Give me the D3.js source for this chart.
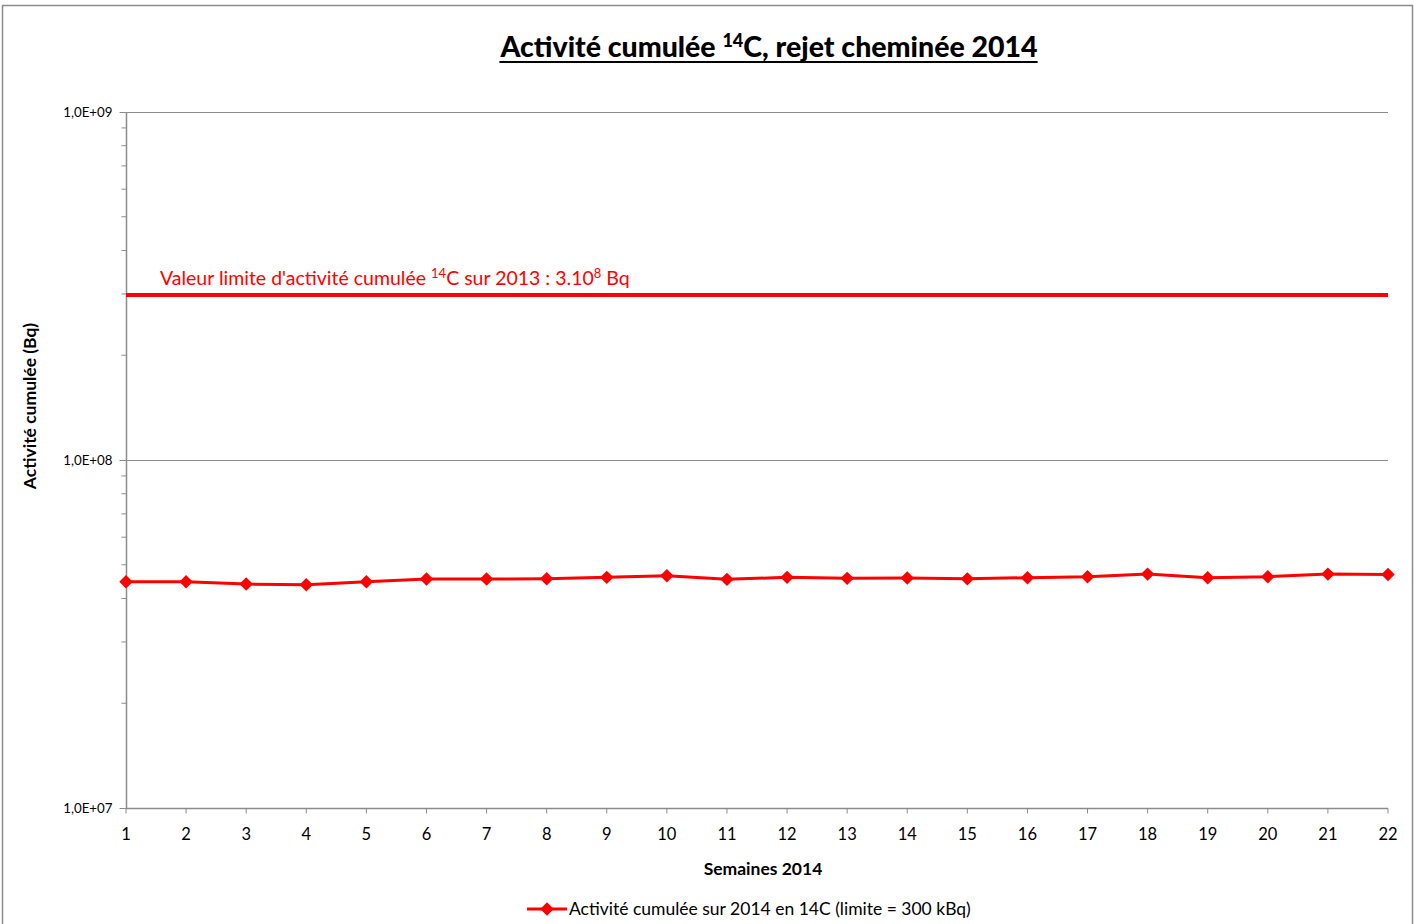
<!DOCTYPE html>
<html><head><meta charset="utf-8">
<script src="https://cdn.jsdelivr.net/npm/d3@7"></script>
<style>body{margin:0;background:#fff;} svg{display:block;}</style>
</head><body>
<svg id="c" width="1415" height="924"></svg>
<script>
const weeks = [1,2,3,4,5,6,7,8,9,10,11,12,13,14,15,16,17,18,19,20,21,22];
const activity = [4.47e7,4.47e7,4.40e7,4.38e7,4.47e7,4.55e7,4.55e7,4.56e7,4.60e7,4.65e7,4.54e7,4.60e7,4.57e7,4.58e7,4.555e7,4.59e7,4.62e7,4.70e7,4.59e7,4.62e7,4.70e7,4.69e7];
const limitValue = 3e8;
const yTicks = [1e7,1e8,1e9];
const yTickLabels = ["1,0E+07","1,0E+08","1,0E+09"];

const svg = d3.select("#c");
const font = "Lato, 'Open Sans', sans-serif";
const L=126, R=1388, T=112, B=808;

svg.append("rect").attr("x",2.5).attr("y",5.5).attr("width",1410).attr("height",930)
  .attr("fill","#fff").attr("stroke","#8c8c8c").attr("stroke-width",1.5);

const x = d3.scalePoint().domain(weeks).range([L,R]);
const y = d3.scaleLog().domain([1e7,1e9]).range([B,T]);

// gridlines
svg.append("g").selectAll("line").data(yTicks.slice(1)).join("line")
  .attr("x1",L).attr("x2",R).attr("y1",d=>y(d)+0.5).attr("y2",d=>y(d)+0.5)
  .attr("stroke","#8c8c8c").attr("stroke-width",1);

// y axis
const minor = [];
for (let e=7;e<9;e++) for (let m=2;m<=9;m++) minor.push(m*Math.pow(10,e));
const yAxis = svg.append("g").attr("transform",`translate(${L+0.5},0)`);
yAxis.append("line").attr("y1",T).attr("y2",B).attr("stroke","#8c8c8c").attr("stroke-width",1.5);
yAxis.selectAll(".mn").data(minor).join("line").attr("class","mn")
  .attr("x1",-5).attr("x2",0).attr("y1",d=>y(d)).attr("y2",d=>y(d)).attr("stroke","#8c8c8c");
yAxis.selectAll(".mj").data(yTicks).join("line").attr("class","mj")
  .attr("x1",-7).attr("x2",0).attr("y1",d=>y(d)+0.5).attr("y2",d=>y(d)+0.5).attr("stroke","#8c8c8c");
yAxis.selectAll("text").data(yTicks).join("text")
  .attr("x",-14).attr("y",d=>y(d)+5).attr("text-anchor","end")
  .attr("font-family",font).attr("font-size",13.3).attr("fill","#000")
  .text((d,i)=>yTickLabels[i]);

// x axis
const xAxis = svg.append("g").attr("transform",`translate(0,${B+0.5})`);
xAxis.append("line").attr("x1",L).attr("x2",R).attr("stroke","#8c8c8c").attr("stroke-width",1.5);
xAxis.selectAll("line.t").data(weeks).join("line").attr("class","t")
  .attr("x1",d=>x(d)).attr("x2",d=>x(d)).attr("y1",0).attr("y2",5).attr("stroke","#8c8c8c");
xAxis.selectAll("text").data(weeks).join("text")
  .attr("x",d=>x(d)).attr("y",31).attr("text-anchor","middle")
  .attr("font-family",font).attr("font-size",16.5).attr("fill","#000").text(d=>d);

// limit line
svg.append("line").attr("x1",L).attr("x2",R).attr("y1",y(limitValue)+1).attr("y2",y(limitValue)+1)
  .attr("stroke","#ff0000").attr("stroke-width",4);
const lt = svg.append("text").attr("x",160).attr("y",y(limitValue)-9)
  .attr("font-family",font).attr("font-size",19.5).attr("fill","#ff0000");
lt.append("tspan").text("Valeur limite d'activité cumulée ");
lt.append("tspan").attr("font-size",13).attr("dy",-7).text("14");
lt.append("tspan").attr("dy",7).text("C sur 2013 : 3.10");
lt.append("tspan").attr("font-size",13).attr("dy",-7).text("8");
lt.append("tspan").attr("dy",7).text(" Bq");

// series
const line = d3.line().x((d,i)=>x(weeks[i])).y(d=>y(d));
svg.append("path").datum(activity).attr("d",line).attr("fill","none")
  .attr("stroke","#ff0000").attr("stroke-width",3).attr("stroke-linejoin","round");
const diamond = d3.symbol().type(d3.symbolDiamond2).size(115);
svg.append("g").selectAll("path").data(activity).join("path")
  .attr("d",diamond).attr("transform",(d,i)=>`translate(${x(weeks[i])},${y(d)})`)
  .attr("fill","#ff0000");

// title
const tt = svg.append("text").attr("x",769).attr("y",57).attr("text-anchor","middle")
  .attr("font-family",font).attr("font-weight","900").attr("font-size",28.5).attr("fill","#000");
tt.append("tspan").text("Activité cumulée ");
tt.append("tspan").attr("font-size",18).attr("dy",-10).text("14");
tt.append("tspan").attr("dy",10).text("C, rejet cheminée 2014");
const bb = tt.node().getBBox();
svg.append("line").attr("x1",bb.x).attr("x2",bb.x+bb.width).attr("y1",62).attr("y2",62)
  .attr("stroke","#000").attr("stroke-width",2);

// axis titles
svg.append("text").attr("transform","translate(36,406) rotate(-90)").attr("text-anchor","middle")
  .attr("font-family",font).attr("font-weight","bold").attr("font-size",17.5).text("Activité cumulée (Bq)");
svg.append("text").attr("x",763).attr("y",875).attr("text-anchor","middle")
  .attr("font-family",font).attr("font-weight","bold").attr("font-size",17.5).text("Semaines 2014");

// legend
const lg = svg.append("g");
lg.append("line").attr("x1",527).attr("x2",567).attr("y1",909).attr("y2",909).attr("stroke","#ff0000").attr("stroke-width",3);
lg.append("path").attr("d",diamond).attr("transform","translate(547,909)").attr("fill","#ff0000");
lg.append("text").attr("x",569).attr("y",915).attr("font-family",font).attr("font-size",17.5)
  .text("Activité cumulée sur 2014 en 14C (limite = 300 kBq)");
</script>
</body></html>
